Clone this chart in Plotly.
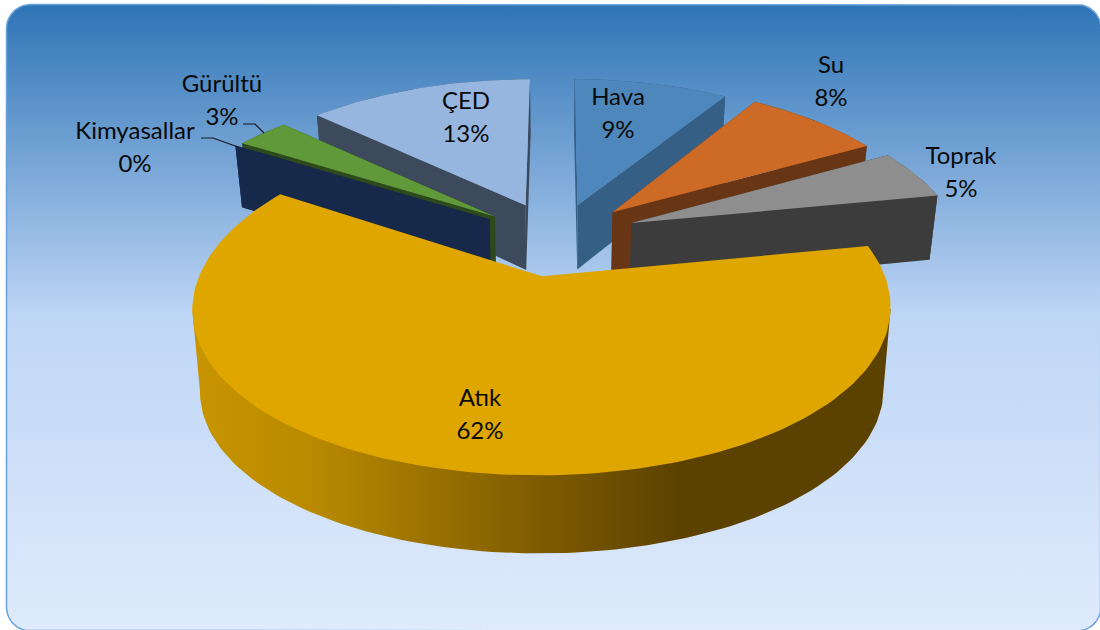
import numpy as np
import plotly.graph_objects as go

# Çevre konuları: share of each topic, clockwise from twelve o'clock
categories = ["Hava", "Su", "Toprak", "Atık", "Kimyasallar", "Gürültü", "ÇED"]
values = [9, 8, 5, 62, 0, 3, 13]

# Slice colours: top face, wall
top_colors = ["#4E87BC", "#CD6B26", "#8E8E8E", "#DFA600", "#17294A", "#5F9939", "#97B6DF"]
wall_colors = ["#365F85", "#693615", "#3C3C3C", "#5C4200", "#17294A", "#2C4A1C", "#3C4A5B"]

# Small per-slice shift on the canvas, on top of the pull-out
shift_x = [2, 3, 5, 2, -2, -1, 0]
shift_y = [-3, -5, -6, -1, -3, -3, -4]
# Horizontal radius of each slice, relative to the pie radius
width_scale = [1.0, 0.985, 0.985, 0.985, 1.03, 1.025, 1.01]

# Centre of each two-line label, in canvas pixels
label_x = [618, 831, 961, 480, 135, 222, 466]
label_y = [115, 83, 174, 416, 149, 102, 119]

# Leader lines for the two small slices
leaders = {
    "Kimyasallar": ([201, 213, 238], [138, 138, 147]),
    "Gürültü": ([243, 255, 264], [124, 124, 133]),
}

# Pie projection settings
CX, CY = 555.0, 241.0      # pie centre on the canvas
RX, RY = 334.0, 155.0      # projected radii
PERSP_X = 0.18             # horizontal foreshortening with depth
PERSP_Y = 0.157            # vertical foreshortening with depth
EXPLODE = 0.23             # slice pull-out, as a share of the radius
DEPTH = 66.0               # thickness of the pulled-back slices
FRONT_DEPTH = 83.0         # thickness of the large front slice
SHRINK = 0.021             # bottom face is slightly further from the camera

PANEL_FILL = [[0, "#2E74B5"], [0.5, "#BFD6F6"], [1, "#DFEBFC"]]
WALL_FILL = [[0, "#C89500"], [0.17, "#B98A00"], [0.5, "#7E5B00"], [0.7, "#5C4200"], [1, "#5C4200"]]


def project(wx, wy, z=0.0, front=False):
    """Map pie-plane coordinates (z=0 top face, z=1 bottom face) to the canvas."""
    px = 1.0 / (1.0 + PERSP_X * wy)
    py = 1.0 / (1.0 + PERSP_Y * wy)
    s = 1.0 - SHRINK * z
    drop = FRONT_DEPTH * z if front else DEPTH * py * z
    return CX + RX * wx * px * s, CY - RY * wy * py * s + drop


def arc(cx, cy, a0, a1, z=0.0, xscale=1.0, front=False):
    t = np.linspace(a0, a1, max(3, int(abs(a1 - a0) * 40)))
    return project(cx + xscale * np.sin(t), cy + np.cos(t), z, front)


def polygon(xs, ys, color=None, gradient=None):
    kw = {"fillgradient": gradient} if gradient else {"fillcolor": color}
    return go.Scatter(x=list(xs), y=list(ys), mode="lines", fill="toself",
                      line=dict(width=0), hoverinfo="skip", showlegend=False, **kw)


def rounded_panel(x0, y0, x1, y1, r):
    t = np.linspace(0, np.pi / 2, 16)
    xs = np.concatenate([x0 + r - r * np.cos(t), x1 - r + r * np.sin(t),
                         x1 - r + r * np.cos(t), x0 + r - r * np.sin(t)])
    ys = np.concatenate([y0 + r - r * np.sin(t), y0 + r - r * np.cos(t),
                         y1 - r + r * np.sin(t), y1 - r + r * np.cos(t)])
    return np.append(xs, xs[0]), np.append(ys, ys[0])


fig = go.Figure()

# Rounded background panel with its vertical gradient and thin border
px_, py_ = rounded_panel(6.5, 4.5, 1101, 631, 24)
fig.add_trace(go.Scatter(
    x=px_, y=py_, mode="lines", fill="toself",
    fillgradient=dict(type="vertical", colorscale=PANEL_FILL, start=4.5, stop=631),
    line=dict(width=1.5, color="#6AA3DC"), hoverinfo="skip", showlegend=False))

# Slice angles from the values
total = sum(values)
edges = np.concatenate([[0], np.cumsum(values)]) / total * 2 * np.pi

# Back slices first, the large front slice last
paint_order = [6, 0, 1, 2, 5, 4, 3]
for i in paint_order:
    a0, a1 = edges[i], edges[i + 1]
    mid = (a0 + a1) / 2
    ox, oy = EXPLODE * np.sin(mid), EXPLODE * np.cos(mid)
    sx, sy = shift_x[i], shift_y[i]
    k = width_scale[i]
    is_front = categories[i] == "Atık"

    tx, ty = arc(ox, oy, a0, a1, 0.0, k, is_front)
    bx, by = arc(ox, oy, a0, a1, 1.0, k, is_front)

    if is_front:
        # Visible rim: widest top points joined by straight silhouettes to the bottom arc
        it_r, it_l = int(np.argmax(tx)), int(np.argmin(tx))
        ib_r, ib_l = int(np.argmax(bx)), int(np.argmin(bx))
        rim_x = np.concatenate([[tx[it_r]], bx[ib_r:ib_l + 1], [tx[it_l], tx[it_r]]]) + sx
        rim_y = np.concatenate([[ty[it_r]], by[ib_r:ib_l + 1], [ty[it_l], ty[it_r]]]) + sy
        fig.add_trace(polygon(rim_x, rim_y, gradient=dict(
            type="horizontal", colorscale=WALL_FILL, start=193, stop=890)))
    else:
        # Radial walls on both cut edges
        for a in (a0, a1):
            ex, ey = ox + k * np.sin(a), oy + np.cos(a)
            wx0, wy0 = project(np.array([ox, ex]), np.array([oy, ey]), 0.0)
            wx1, wy1 = project(np.array([ox, ex]), np.array([oy, ey]), 1.0)
            fig.add_trace(polygon(np.array([wx0[0], wx0[1], wx1[1], wx1[0], wx0[0]]) + sx,
                                  np.array([wy0[0], wy0[1], wy1[1], wy1[0], wy0[0]]) + sy,
                                  wall_colors[i]))
        # Outer rim wall
        fig.add_trace(polygon(np.concatenate([tx, bx[::-1], tx[:1]]) + sx,
                              np.concatenate([ty, by[::-1], ty[:1]]) + sy, wall_colors[i]))

    # Top face
    ax, ay = project(np.array([ox]), np.array([oy]), 0.0)
    fig.add_trace(polygon(np.concatenate([ax, tx, ax]) + sx,
                          np.concatenate([ay, ty, ay]) + sy, top_colors[i]))

# Leader lines
for lx, ly in leaders.values():
    fig.add_trace(go.Scatter(x=lx, y=ly, mode="lines", line=dict(color="#1A1A1A", width=1.2),
                             hoverinfo="skip", showlegend=False))

# Two-line labels: category name above its share
LINE_GAP = 16.5
percent_text = [f"{round(v / total * 100)}%" for v in values]
label_font = dict(family="Lato, Carlito, sans-serif", size=24, color="#0A0A0A")
fig.add_trace(go.Scatter(x=label_x, y=[y - LINE_GAP for y in label_y], text=categories,
                         mode="text", textposition="middle center", textfont=label_font,
                         hoverinfo="skip", showlegend=False))
fig.add_trace(go.Scatter(x=label_x, y=[y + LINE_GAP for y in label_y], text=percent_text,
                         mode="text", textposition="middle center", textfont=label_font,
                         hoverinfo="skip", showlegend=False))

fig.update_layout(
    width=1100, height=630, margin=dict(l=0, r=0, t=0, b=0),
    paper_bgcolor="white", plot_bgcolor="white", showlegend=False,
    xaxis=dict(range=[0, 1100], visible=False, fixedrange=True),
    yaxis=dict(range=[630, 0], visible=False, fixedrange=True),
)

fig.write_html("out.html", config=dict(displayModeBar=False))
